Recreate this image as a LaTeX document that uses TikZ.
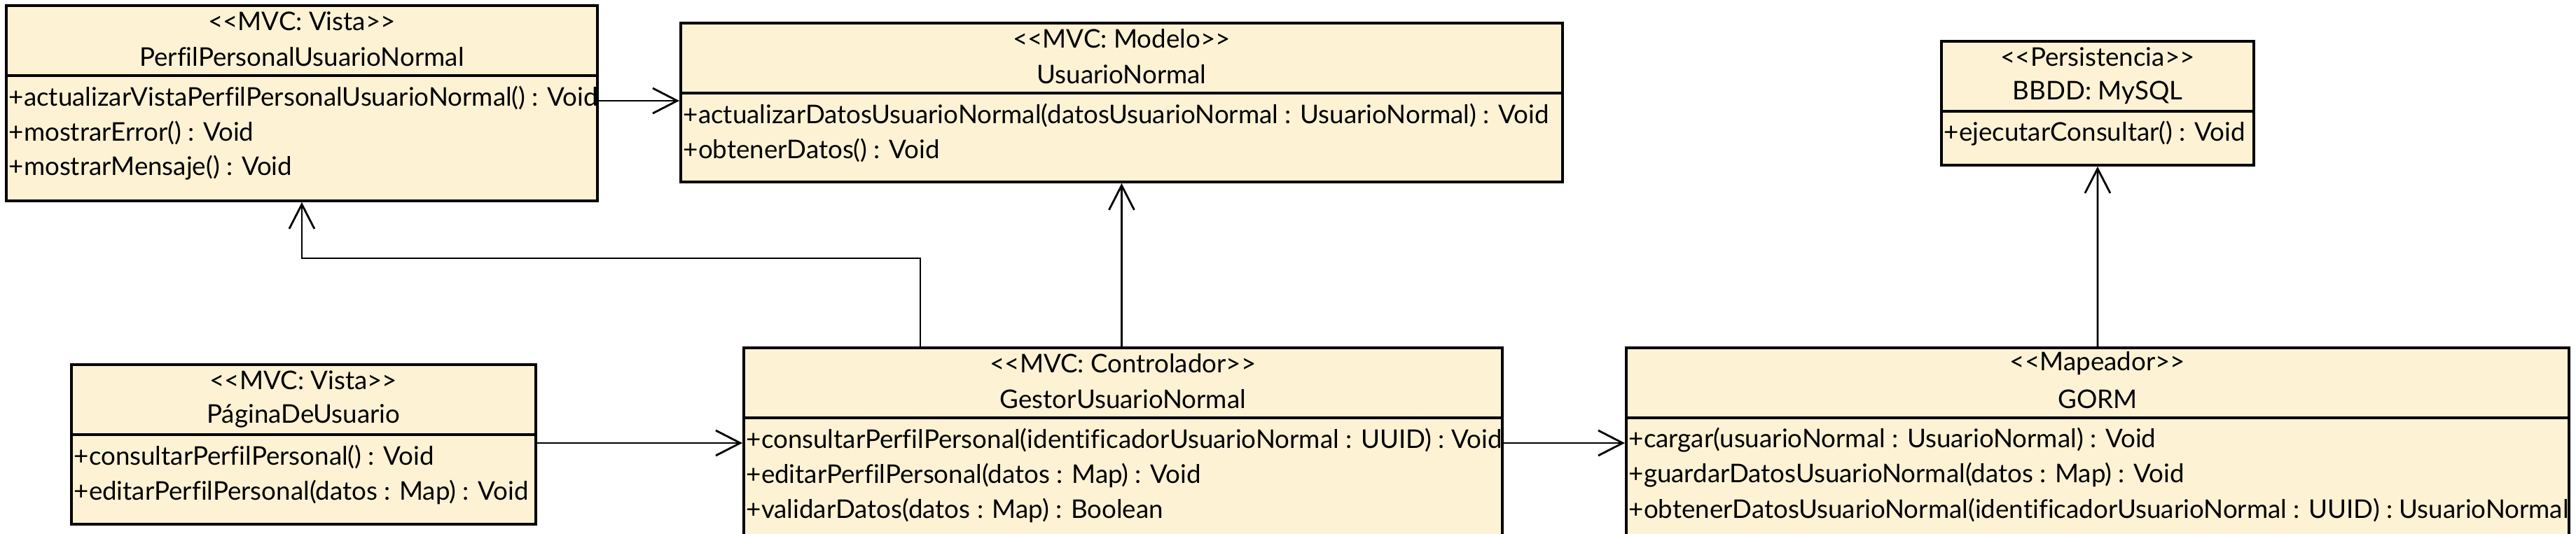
\documentclass[tikz,border=0pt]{standalone}
\usepackage{fontspec}
\setmainfont{Lato}[Ligatures={NoCommon}]
\usetikzlibrary{arrows.meta}
\definecolor{classfill}{RGB}{253,242,212}
\tikzstyle{class}=[draw,line width=1.1pt,fill=classfill,anchor=north west,inner sep=0pt]
\tikzstyle{class text}=[inner sep=0pt,font=\fontsize{10.45}{13}\selectfont]
\tikzstyle{method}=[class text,anchor=west]
\tikzstyle{edge}=[draw,line width=0.8pt]
\tikzstyle{dependency}=[edge,-{Straight Barb[length=0.35cm,width=0.36cm]}]

\begin{document}
\begin{tikzpicture}
    \path[use as bounding box] (0,0) rectangle (36.78,-7.63);
    \clip (0,0) rectangle (36.78,-7.63);

    % Class boxes
    \foreach \pos/\name/\w/\h in {{(0.07,-0.06)/perfil/8.44/2.79}, {(9.70,-0.31)/usuario/12.59/2.27},
                                 {(27.70,-0.57)/bbdd/4.46/1.77}, {(1.00,-5.19)/pagina/6.63/2.28},
                                 {(10.60,-4.95)/gestor/10.83/3.2}, {(23.20,-4.95)/gorm/13.46/3.2}}
        \node[class,minimum width=\w cm,minimum height=\h cm] (\name) at \pos {};

    % Compartment lines
    \foreach \name in {perfil,usuario,bbdd,pagina,gestor,gorm}
        \draw[line width=1.1pt] ([yshift=-1.02cm]\name.north west) -- ([yshift=-1.02cm]\name.north east);

    % Stereotypes and names
    \foreach \name/\stereo/\title in {{perfil/MVC: Vista/PerfilPersonalUsuarioNormal}, {usuario/MVC: Modelo/UsuarioNormal},
                                      {bbdd/Persistencia/BBDD: MySQL}, {pagina/MVC: Vista/PáginaDeUsuario},
                                      {gestor/MVC: Controlador/GestorUsuarioNormal}, {gorm/Mapeador/GORM}}
    {
        \node[class text] (\name-st) at ([yshift=-0.24cm]\name.north)
            {\textless\kern0pt\textless\kern0pt\stereo\kern0pt\textgreater\kern0pt\textgreater};
        \node[class text] (\name-nm) at ([yshift=-0.75cm]\name.north) {\title};
    }

    % Operations
    \foreach \name/\i/\op in {{perfil/0/+actualizarVistaPerfilPersonalUsuarioNormal() : Void},
                              {perfil/1/+mostrarError() : Void},
                              {perfil/2/+mostrarMensaje() : Void},
                              {usuario/0/+actualizarDatosUsuarioNormal(datosUsuarioNormal : UsuarioNormal) : Void},
                              {usuario/1/+obtenerDatos() : Void},
                              {bbdd/0/+ejecutarConsultar() : Void},
                              {pagina/0/+consultarPerfilPersonal() : Void},
                              {pagina/1/+editarPerfilPersonal(datos : Map) : Void},
                              {gestor/0/+consultarPerfilPersonal(identificadorUsuarioNormal : UUID) : Void},
                              {gestor/1/+editarPerfilPersonal(datos : Map) : Void},
                              {gestor/2/+validarDatos(datos : Map) : Boolean},
                              {gorm/0/+cargar(usuarioNormal : UsuarioNormal) : Void},
                              {gorm/1/+guardarDatosUsuarioNormal(datos : Map) : Void},
                              {gorm/2/+obtenerDatosUsuarioNormal(identificadorUsuarioNormal : UUID) : UsuarioNormal}}
        \node[method] (\name-op\i) at ([xshift=0.05cm,yshift={-1.34cm-\i*0.5cm}]\name.north west) {\op};

    % Dependencies
    \coordinate (upper) at (0,-1.44);
    \coordinate (lower) at (0,-6.33);
    \coordinate (bend) at (13.14,-3.69);
    \path[dependency] (perfil.east |- upper) -- (usuario.west |- upper);
    \path[dependency] (pagina.east |- lower) -- (gestor.west |- lower);
    \path[dependency] (gestor.east |- lower) -- (gorm.west |- lower);
    \path[dependency] (gestor.north -| usuario.south) -- (usuario.south);
    \path[dependency] (gestor.north -| bend) -- (bend) -| (perfil.south);
    \path[dependency] (gorm.north) -- (bbdd.south);

\end{tikzpicture}
\end{document}
